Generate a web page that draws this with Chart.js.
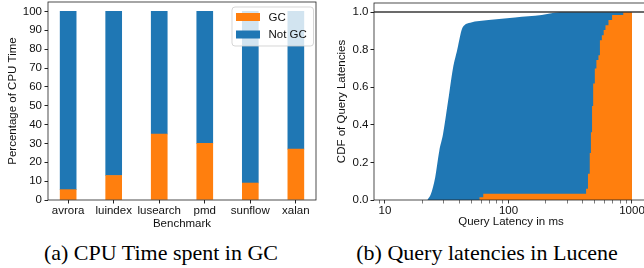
<!DOCTYPE html>
<html>
<head>
<meta charset="utf-8">
<script src="https://cdn.jsdelivr.net/npm/chart.js@4.4.1/dist/chart.umd.min.js"></script>
<style>
html, body { margin:0; padding:0; width:644px; height:268px; overflow:hidden; background:#fff; }
.box { position:absolute; top:0; }
#leftBox { left:0; width:322px; height:231px; }
#rightBox { left:322px; width:326px; height:229px; }
.cap { position:absolute; top:242px; height:22px; line-height:22px; text-align:center;
       font-family:"Liberation Serif", serif; font-size:22px; color:#000; white-space:nowrap; }
</style>
</head>
<body>
<div class="box" id="leftBox"><canvas id="cpu"></canvas></div>
<div class="box" id="rightBox"><canvas id="cdf"></canvas></div>
<div class="cap" style="left:0;width:322px">(a) CPU Time spent in GC</div>
<div class="cap" style="left:322px;width:330px">(b) Query latencies in Lucene</div>
<script>
/* ---------- DATA ---------- */
const benchmarks = ["avrora", "luindex", "lusearch", "pmd", "sunflow", "xalan"];
const gcPct      = [5.5, 13, 35, 30, 9, 27];
const notGcPct   = [94.5, 87, 65, 70, 91, 73];
const pctTicks   = [0, 10, 20, 30, 40, 50, 60, 70, 80, 90, 100];

// CDF of query latencies (ms)
const notGcLatency = [22, 23.5, 25.5, 27.5, 29.5, 32.5, 35.5, 38.5, 40.5, 42, 44, 49, 69, 113, 186, 240, 260, 1000];
const notGcCdf     = [0, 0.03, 0.12, 0.26, 0.35, 0.53, 0.70, 0.80, 0.87, 0.91, 0.93, 0.943, 0.957, 0.971, 0.984, 0.997, 1.0, 1.0];
const gcLatency    = [58, 62.5, 425, 440, 455, 465, 475, 485, 500, 515, 535, 550, 570, 590, 610, 645, 690, 850, 1000];
const gcCdf        = [0.015, 0.033, 0.06, 0.14, 0.25, 0.36, 0.5, 0.62, 0.7, 0.745, 0.77, 0.85, 0.877, 0.904, 0.93, 0.957, 0.984, 1.0, 1.0];
const latMajorTicks = [10, 100, 1000];
const latMinorTicks = [9, 20, 30, 40, 50, 60, 70, 80, 90, 200, 300, 400, 500, 600, 700, 800, 900];
const cdfTicks = [0, 0.2, 0.4, 0.6, 0.8, 1.0];
const latRange = [8.15, 1348];
const cdfTop = [1.0, 1.0];

const BLUE = "#1f77b4", ORANGE = "#ff7f0e";

Chart.defaults.font.family = "'Liberation Sans', Arial, sans-serif";
Chart.defaults.font.size = 11.5;
Chart.defaults.color = "#111";
Chart.defaults.animation = false;

/* ---------- helpers ---------- */
function fixSize(prop, v) {
    return s => {
        s[prop] = v;
        s.paddingTop = s.paddingBottom = s.paddingLeft = s.paddingRight = 0;
    };
}

const framePlugin = {
    id: "frame",
    afterDraw(chart) {
        const {ctx, chartArea: a} = chart;
        ctx.save();
        ctx.strokeStyle = "#222";
        ctx.lineWidth = 0.8;
        ctx.strokeRect(a.left, a.top, a.right - a.left, a.bottom - a.top);
        ctx.restore();
    }
};

const legendPlugin = {
    id: "boxLegend",
    afterDatasetsDraw(chart) {
        const {ctx, chartArea: a} = chart;
        const x = a.right - 84, y = a.top + 5, w = 81.5, h = 39;
        ctx.save();
        ctx.beginPath();
        ctx.roundRect(x, y, w, h, 3);
        ctx.fillStyle = "rgba(255,255,255,0.8)";
        ctx.fill();
        ctx.strokeStyle = "rgba(204,204,204,0.8)";
        ctx.lineWidth = 1;
        ctx.stroke();
        ctx.font = "11.5px 'Liberation Sans'";
        ctx.textBaseline = "middle";
        chart.data.datasets.forEach((ds, i) => {
            const ry = y + 6 + i * 17.5;
            ctx.fillStyle = ds.backgroundColor;
            ctx.fillRect(x + 4, ry, 24, 8);
            ctx.fillStyle = "#111";
            ctx.fillText(ds.label, x + 36.5, ry + 4.5);
        });
        ctx.restore();
    }
};

/* ---------- CPU TIME CHART ---------- */
new Chart(document.getElementById("cpu"), {
    type: "bar",
    data: {
        datasets: [
            {label: "GC", data: gcPct.map((v, i) => ({x: i, y: v})), backgroundColor: ORANGE, barThickness: 16},
            {label: "Not GC", data: notGcPct.map((v, i) => ({x: i, y: v})), backgroundColor: BLUE, barThickness: 16}
        ]
    },
    options: {
        responsive: true,
        maintainAspectRatio: false,
        layout: {padding: {left: 0, right: 6, top: 2, bottom: 0}},
        plugins: {legend: {display: false}, tooltip: {enabled: false}},
        scales: {
            x: {
                type: "linear", stacked: true, offset: false, min: -0.4425, max: 5.4425,
                afterBuildTicks: s => { s.ticks = benchmarks.map((b, i) => ({value: i})); },
                afterFit: fixSize("height", 31),
                ticks: {callback: v => benchmarks[v], autoSkip: false, maxRotation: 0, padding: 0},
                grid: {offset: false, drawOnChartArea: false, tickLength: 3.5, tickColor: "#222"},
                border: {display: false},
                title: {display: true, text: "Benchmark", padding: 0}
            },
            y: {
                stacked: true, min: 0, max: 105,
                afterBuildTicks: s => { s.ticks = pctTicks.map(v => ({value: v})); },
                afterFit: fixSize("width", 48),
                ticks: {padding: 2.5},
                grid: {drawOnChartArea: false, tickLength: 3.5, tickColor: "#222"},
                border: {display: false},
                title: {display: true, text: "Percentage of CPU Time", padding: {top: 6, bottom: 0}}
            }
        }
    },
    plugins: [legendPlugin, framePlugin]
});

/* ---------- LATENCY CDF CHART ---------- */
const pts = (xs, ys) => xs.map((x, i) => ({x, y: ys[i]}));

new Chart(document.getElementById("cdf"), {
    type: "line",
    data: {
        datasets: [
            {data: pts(latRange, cdfTop), borderColor: "#3a3a3a", borderWidth: 1.5, pointRadius: 0, fill: false},
            {data: pts(gcLatency, gcCdf), backgroundColor: ORANGE, borderWidth: 0, pointRadius: 0,
             stepped: true, fill: "origin"},
            {data: pts(notGcLatency, notGcCdf), backgroundColor: BLUE, borderWidth: 0, pointRadius: 0,
             cubicInterpolationMode: "monotone", fill: "origin"}
        ]
    },
    options: {
        responsive: true,
        maintainAspectRatio: false,
        layout: {padding: {left: 0, right: 0, top: 3, bottom: 0}},
        plugins: {legend: {display: false}, tooltip: {enabled: false}},
        scales: {
            x: {
                type: "logarithmic", min: latRange[0], max: latRange[1],
                afterBuildTicks: s => {
                    s.ticks = latMajorTicks.concat(latMinorTicks).sort((a, b) => a - b).map(v => ({value: v}));
                },
                afterFit: fixSize("height", 29),
                ticks: {callback: v => latMajorTicks.includes(v) ? String(v) : "", autoSkip: false, maxRotation: 0, padding: 0},
                grid: {drawOnChartArea: false, tickLength: 3.5, tickColor: "#222",
                       tickWidth: c => (c.tick && latMajorTicks.includes(c.tick.value)) ? 0.9 : 0.6},
                border: {display: false},
                title: {display: true, text: "Query Latency in ms", padding: 0}
            },
            y: {
                min: 0, max: 1.048,
                afterBuildTicks: s => { s.ticks = cdfTicks.map(v => ({value: v})); },
                afterFit: fixSize("width", 52),
                ticks: {callback: v => v.toFixed(1), padding: 2},
                grid: {drawOnChartArea: false, tickLength: 3.5, tickColor: "#222"},
                border: {display: false},
                title: {display: true, text: "CDF of Query Latencies", padding: {top: 13, bottom: 0}}
            }
        }
    },
    plugins: [framePlugin]
});
</script>
</body>
</html>
